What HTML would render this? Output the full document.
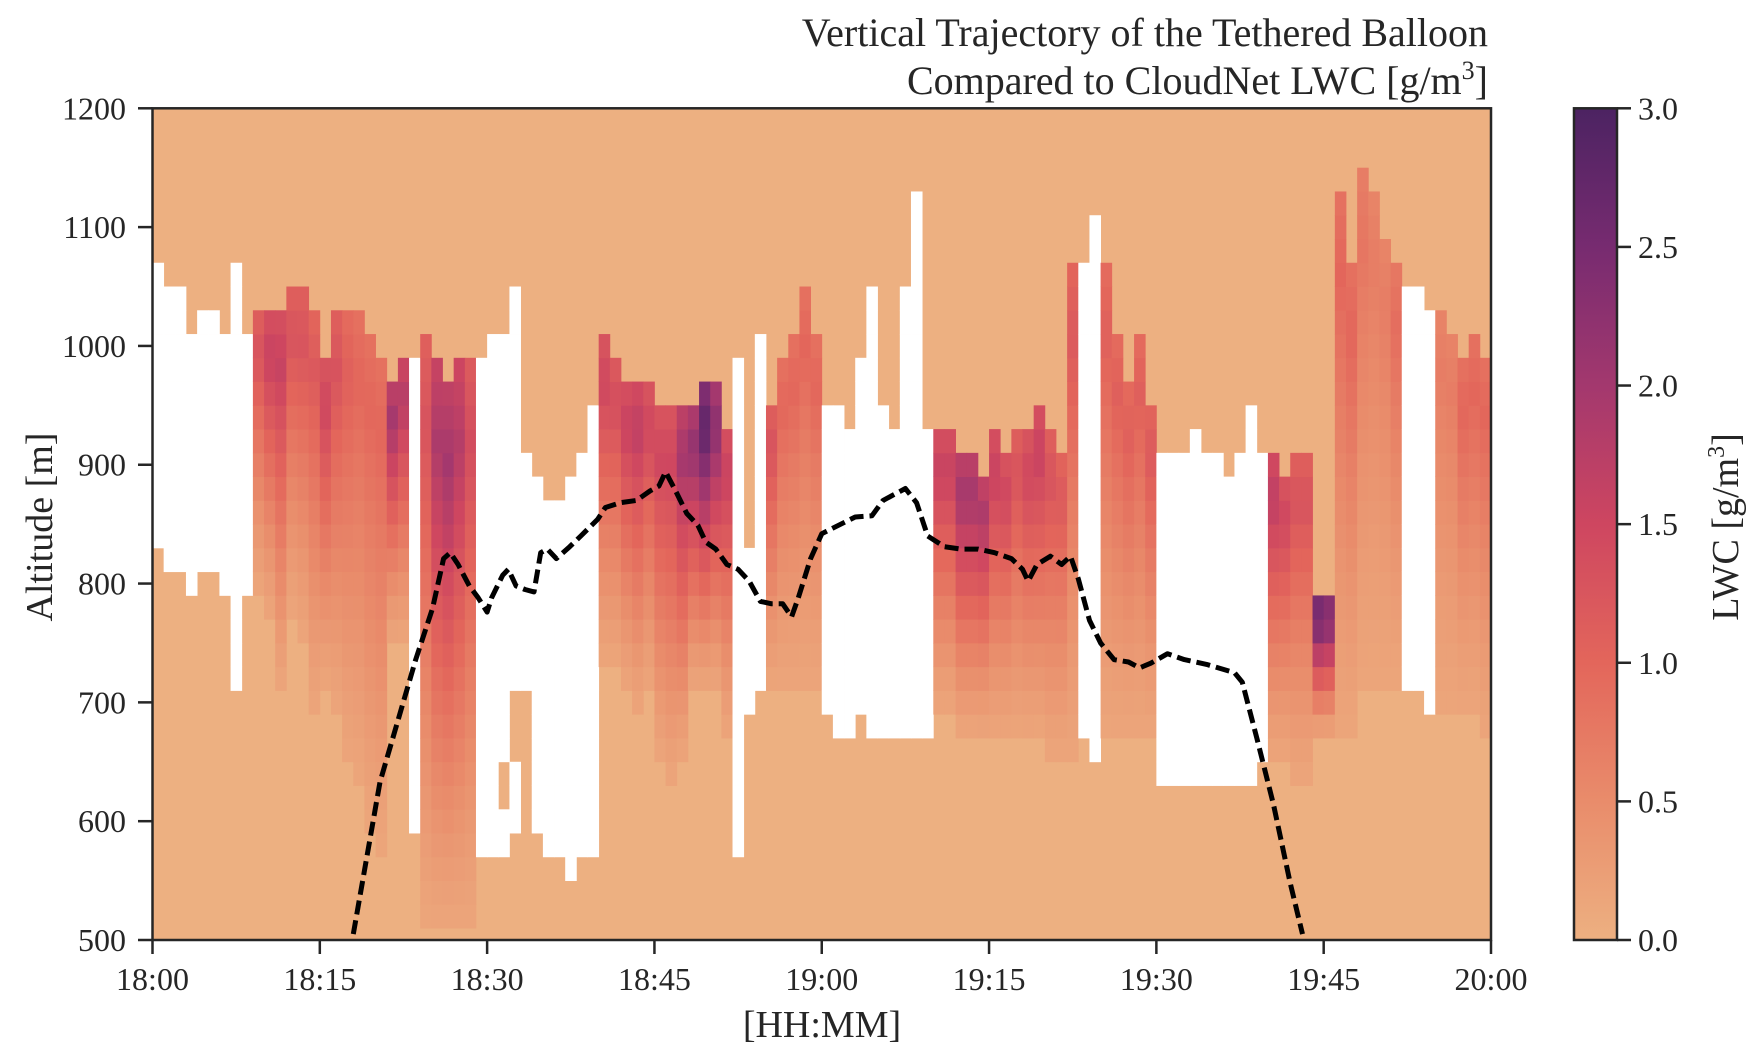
<!DOCTYPE html>
<html><head><meta charset="utf-8"><style>
html,body{margin:0;padding:0;background:#fff;}
svg{display:block;font-family:"Liberation Serif",serif;}
</style></head><body>
<svg id="chart" width="1751" height="1059" viewBox="0 0 1751 1059" xmlns="http://www.w3.org/2000/svg">
<defs>
<linearGradient id="cbgrad" x1="0" y1="1" x2="0" y2="0">
<stop offset="0" stop-color="#edb081"/><stop offset="0.1667" stop-color="#e98c6b"/><stop offset="0.3333" stop-color="#e3665b"/><stop offset="0.5" stop-color="#ce4660"/><stop offset="0.6667" stop-color="#a3386e"/><stop offset="0.8333" stop-color="#772b70"/><stop offset="1" stop-color="#4c2362"/>
</linearGradient>
<clipPath id="plotclip"><rect x="152.5" y="108.3" width="1338.5" height="831.7"/></clipPath>
</defs>
<g id="title" font-size="40" fill="#262626" text-anchor="end">
<text x="1488" y="46">Vertical Trajectory of the Tethered Balloon</text>
<text x="1488" y="94">Compared to CloudNet LWC [g/m<tspan font-size="26" dy="-15">3</tspan><tspan dy="15">]</tspan></text>
</g>
<rect x="152.5" y="108.3" width="1338.5" height="831.7" fill="#edb081"/>
<g id="cells" clip-path="url(#plotclip)"></g>
<g id="traj" clip-path="url(#plotclip)"></g>
<rect x="152.5" y="108.3" width="1338.5" height="831.7" fill="none" stroke="#262626" stroke-width="2.5"/>
<g id="xaxis"></g>
<g id="yaxis"></g>
<text x="822" y="1037" font-size="38" fill="#262626" text-anchor="middle">[HH:MM]</text>
<text transform="translate(52,527) rotate(-90)" font-size="38" fill="#262626" text-anchor="middle">Altitude [m]</text>
<rect x="1574" y="108.3" width="43" height="831.7" fill="url(#cbgrad)" stroke="#262626" stroke-width="2.5"/>
<g id="cbaxis"></g>
<text transform="translate(1738,527) rotate(-90)" font-size="38" fill="#262626" text-anchor="middle">LWC [g/m<tspan font-size="24" dy="-14">3</tspan><tspan dy="14">]</tspan></text>
</svg>
<script>
// ---- data ----
const xTickLabels = ["18:00","18:15","18:30","18:45","19:00","19:15","19:30","19:45","20:00"];
const xTickMinutes = [0,15,30,45,60,75,90,105,120];
const yTickValues = [500,600,700,800,900,1000,1100,1200];
const cbTickValues = [0,0.5,1,1.5,2,2.5,3];

const cloudMinute = [9,10,11,12,13,14,15,16,17,18,19,20,21,22,24,25,26,27,28,40,41,42,43,44,45,46,47,48,49,50,51,55,56,57,58,59,70,71,72,73,74,75,76,77,78,79,80,81,82,85,86,87,88,89,100,101,102,103,104,105,106,107,108,109,110,111,115,116,117,118,119];
const cloudTop = [1030,1030,1030,1050,1040,1030,980,1020,1020,1030,1010,990,970,990,1000,990,970,980,980,1010,990,960,970,970,950,950,940,940,960,960,930,940,980,1000,1050,1010,930,933,912,900,892,920,900,920,933,940,930,912,1070,1070,1000,971,1010,952,900,892,900,912,790,780,1131,1070,1140,1130,1090,1072,1020,1000,990,1012,991];
const cloudBot = [790,770,700,770,740,680,700,680,640,620,580,560,740,740,500,500,500,500,500,720,720,700,690,700,650,620,650,700,700,700,670,700,700,700,700,700,690,690,670,660,660,660,660,660,660,660,650,650,650,660,660,660,660,660,650,640,620,620,670,670,672,672,700,700,700,700,690,690,690,690,672];
const cloudPeak = [1.3,1.6,1.6,1.3,1.3,1.2,1.5,1.3,1.1,1.0,1.0,1.0,2.0,1.8,1.3,1.9,2.0,1.8,1.4,1.5,1.4,1.6,1.7,1.5,1.5,1.5,2.0,2.2,2.8,2.3,1.6,1.3,1.0,1.0,1.0,1.0,1.6,1.6,2.0,2.0,1.9,1.6,1.5,1.3,1.5,1.6,1.3,1.2,1.2,1.1,1.1,1.1,1.1,1.2,1.7,1.5,1.3,1.3,2.7,2.5,1.0,1.0,0.8,0.7,0.7,0.9,0.7,0.7,1.0,1.0,1.0];

const nanMinute = [0,1,2,3,4,5,6,7,8,23,29,30,31,32,33,34,35,36,37,38,39,52,53,54,60,61,62,63,64,65,66,67,68,69,83,84,90,91,92,93,94,95,96,97,98,99,112,113,114];
const nanTop = [1070,1050,1040,1010,1030,1030,1010,1070,1010,990,990,1010,1000,1050,900,880,860,870,890,910,950,990,832,1010,950,940,933,990,1050,952,933,1050,1130,930,1060,1111,912,900,900,920,900,910,890,900,940,912,1051,1051,1031];
const nanBot = [830,810,810,790,800,810,790,712,790,580,560,560,650,700,712,580,560,570,550,560,560,560,691,700,680,672,672,680,672,672,672,672,672,672,660,652,633,633,633,633,633,633,633,633,633,640,712,712,691];

const nan2Minute = [31,32];
const nan2Top = [600,650];
const nan2Bot = [560,590];

const balloonTime = [18.0,20.4,23.6,25.1,26.1,26.7,27.4,28.4,29.2,30.0,30.4,31.4,31.9,32.6,33.4,34.2,34.8,35.4,36.2,37.4,38.4,39.9,40.6,41.9,43.4,44.6,45.4,46.0,46.9,47.9,48.9,49.6,50.5,51.5,52.5,53.5,54.5,55.5,56.5,57.3,57.9,59.0,60.0,61.5,63.0,64.5,65.5,66.5,67.5,68.5,69.5,71.0,72.5,74.0,75.5,77.0,78.0,78.5,79.3,80.5,81.5,82.3,83.0,84.0,85.0,86.2,87.5,88.5,89.5,91.0,92.5,94.5,97.0,97.7,99.0,100.5,102.0,103.1];
const balloonAlt = [505,633,736,779,821,826,816,798,788,776,788,807,812,798,795,793,826,829,821,831,840,854,864,868,870,878,882,894,878,859,849,835,829,816,812,802,785,783,783,772,788,821,842,849,856,857,870,875,880,868,840,831,829,829,826,821,812,802,816,823,816,823,804,769,750,736,734,729,733,741,736,732,725,717,670,614,548,505];

// ---- scales ----
const PX0=152.5, PX1=1491, PY0=108.3, PY1=940;
function X(m){return PX0 + m*(PX1-PX0)/120;}
function Y(a){return PY1 - (a-500)*(PY1-PY0)/700;}
function CB(v){return PY1 - v*(PY1-PY0)/3;}
const cstops=[[0,[237,176,129]],[0.5,[233,140,107]],[1,[227,102,91]],[1.5,[206,70,96]],[2,[163,56,110]],[2.5,[119,43,112]],[3,[76,35,98]]];
function color(v){
  v=Math.max(0,Math.min(3,v));
  for(let i=1;i<cstops.length;i++){
    if(v<=cstops[i][0]){
      const a=cstops[i-1],b=cstops[i],t=(v-a[0])/(b[0]-a[0]);
      const c=a[1].map((q,k)=>Math.round(q+(b[1][k]-q)*t));
      return 'rgb('+c.join(',')+')';
    }
  }
  return 'rgb(76,35,98)';
}
function snap(v){return 490+20*Math.round((v-490)/20);}
function lwcAt(peak,top,bot,a){
  const t=(a-bot)/(top-bot);
  const g = t<0.85 ? Math.pow(t/0.85,1.3) : 1-(t-0.85)*1.3;
  return 0.15+(peak-0.15)*g;
}
const NS='http://www.w3.org/2000/svg';
const cells=document.getElementById('cells');
const edges=[500];
for(let e=510;e<1200;e+=20) edges.push(e);
edges.push(1200);

function inRange(arrM,arrT,arrB,m,a){
  const i=arrM.indexOf(m);
  if(i<0) return false;
  return a<snap(arrT[i]) && a>snap(arrB[i]);
}
for(let m=0;m<120;m++){
  for(let r=0;r<edges.length-1;r++){
    const lo=edges[r], hi=edges[r+1], ac=(lo+hi)/2;
    let fill=null;
    if(inRange(nanMinute,nanTop,nanBot,m,ac) || inRange(nan2Minute,nan2Top,nan2Bot,m,ac)){
      fill='#ffffff';
    } else {
      const ci=cloudMinute.indexOf(m);
      if(ci>=0){
        const top=snap(cloudTop[ci]), bot=Math.max(490,snap(cloudBot[ci]));
        if(ac<top && ac>bot){ fill=color(lwcAt(cloudPeak[ci],top,bot,ac)); }
      }
    }
    if(!fill) continue;
    const rc=document.createElementNS(NS,'rect');
    rc.setAttribute('x',X(m).toFixed(2));
    rc.setAttribute('y',Y(hi).toFixed(2));
    rc.setAttribute('width',(X(m+1)-X(m)+0.4).toFixed(2));
    rc.setAttribute('height',(Y(lo)-Y(hi)+0.4).toFixed(2));
    rc.setAttribute('fill',fill);
    
    
    cells.appendChild(rc);
  }
}
// trajectory
const traj=document.getElementById('traj');
const pl=document.createElementNS(NS,'polyline');
pl.setAttribute('points',balloonTime.map((t,i)=>X(t).toFixed(1)+','+Y(balloonAlt[i]).toFixed(1)).join(' '));
pl.setAttribute('fill','none');
pl.setAttribute('stroke','#000');
pl.setAttribute('stroke-width','5');
pl.setAttribute('stroke-dasharray','14,6');
pl.setAttribute('stroke-linejoin','round');


traj.appendChild(pl);
// x axis
const xa=document.getElementById('xaxis');
xTickMinutes.forEach((m,i)=>{
  const x=X(m);
  const tk=document.createElementNS(NS,'line');
  tk.setAttribute('x1',x);tk.setAttribute('x2',x);tk.setAttribute('y1',940);tk.setAttribute('y2',954);
  tk.setAttribute('stroke','#262626');tk.setAttribute('stroke-width','2.5');
  
  
  xa.appendChild(tk);
  const tx=document.createElementNS(NS,'text');
  tx.setAttribute('x',x);tx.setAttribute('y',990);tx.setAttribute('font-size','32');tx.setAttribute('fill','#262626');tx.setAttribute('text-anchor','middle');
  tx.textContent=xTickLabels[i];
  
  
  xa.appendChild(tx);
});
// y axis
const ya=document.getElementById('yaxis');
yTickValues.forEach(v=>{
  const y=Y(v);
  const tk=document.createElementNS(NS,'line');
  tk.setAttribute('x1',138);tk.setAttribute('x2',152.5);tk.setAttribute('y1',y);tk.setAttribute('y2',y);
  tk.setAttribute('stroke','#262626');tk.setAttribute('stroke-width','2.5');
  
  
  ya.appendChild(tk);
  const tx=document.createElementNS(NS,'text');
  tx.setAttribute('x',126);tx.setAttribute('y',y+11);tx.setAttribute('font-size','32');tx.setAttribute('fill','#262626');tx.setAttribute('text-anchor','end');
  tx.textContent=String(v);
  
  
  ya.appendChild(tx);
});
// colorbar axis
const ca=document.getElementById('cbaxis');
cbTickValues.forEach(v=>{
  const y=CB(v);
  const tk=document.createElementNS(NS,'line');
  tk.setAttribute('x1',1617);tk.setAttribute('x2',1631);tk.setAttribute('y1',y);tk.setAttribute('y2',y);
  tk.setAttribute('stroke','#262626');tk.setAttribute('stroke-width','2.5');
  
  
  ca.appendChild(tk);
  const tx=document.createElementNS(NS,'text');
  tx.setAttribute('x',1638);tx.setAttribute('y',y+11);tx.setAttribute('font-size','32');tx.setAttribute('fill','#262626');
  tx.textContent=v.toFixed(1);
  
  
  ca.appendChild(tx);
});
</script>
</body></html>
